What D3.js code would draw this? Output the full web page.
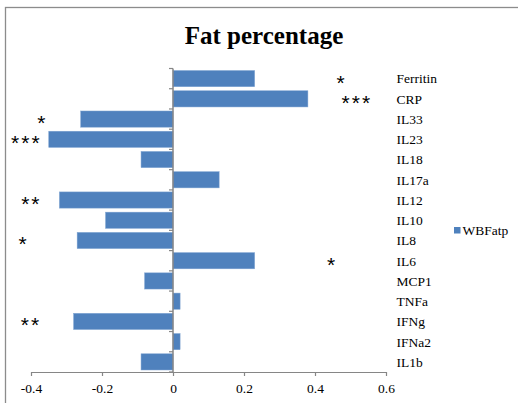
<!DOCTYPE html>
<html>
<head>
<meta charset="utf-8">
<script src="https://cdn.jsdelivr.net/npm/d3@7"></script>
<style>
  html, body { margin: 0; padding: 0; background: #fff; }
  svg { display: block; }
</style>
</head>
<body>
<svg id="chart" width="518" height="403"></svg>
<script>
// Correlation of cytokines with whole-body fat percentage
const categories = ["Ferritin", "CRP", "IL33", "IL23", "IL18", "IL17a", "IL12", "IL10", "IL8", "IL6", "MCP1", "TNFa", "IFNg", "IFNa2", "IL1b"];
const values = [0.23, 0.38, -0.26, -0.35, -0.09, 0.13, -0.32, -0.19, -0.27, 0.23, -0.08, 0.02, -0.28, 0.02, -0.09];
const xTicks = [-0.4, -0.2, 0, 0.2, 0.4, 0.6];
const seriesName = "WBFatp";
const title = "Fat percentage";
// significance marks and where they sit along the value axis
const sigCategories = ["Ferritin", "CRP", "IL33", "IL23", "IL12", "IL8", "IL6", "IFNg"];
const sigMarks = ["*", "***", "*", "***", "**", "*", "*", "**"];
const sigAt = [0.475, 0.518, -0.368, -0.413, -0.399, -0.421, 0.448, -0.400];

const svg = d3.select("#chart");
const serif = "'Liberation Serif', 'Times New Roman', serif";
const axisColor = "#868686";
const barColor = "#4F81BD";

// outer frame
svg.append("rect")
  .attr("x", 5.5).attr("y", 7.5)
  .attr("width", 530).attr("height", 420)
  .attr("fill", "none").attr("stroke", "#8c8c8c").attr("stroke-width", 1.3);

const x = d3.scaleLinear().domain([-0.4, 0.6]).range([31, 386]);
const y = d3.scaleBand().domain(categories).range([68.5, 372]).paddingInner(0.2).paddingOuter(0.1);

// title
svg.append("text")
  .attr("x", 264).attr("y", 44)
  .attr("text-anchor", "middle")
  .attr("font-family", serif).attr("font-weight", "bold").attr("font-size", 25)
  .text(title);

// bars
svg.append("g").selectAll("rect")
  .data(categories)
  .join("rect")
  .attr("x", (d, i) => x(Math.min(0, values[i])))
  .attr("y", d => y(d))
  .attr("width", (d, i) => Math.abs(x(values[i]) - x(0)))
  .attr("height", y.bandwidth())
  .attr("fill", barColor)
  .attr("stroke", "#7ea3d1").attr("stroke-width", 0.5);

// value axis at the bottom (plain hyphen for negatives)
const yBottom = 372;
const xAxis = svg.append("g")
  .attr("transform", `translate(0,${yBottom})`)
  .call(d3.axisBottom(x).tickValues(xTicks).tickSize(4).tickSizeOuter(0).tickFormat(d => String(d)));
xAxis.select(".domain").attr("stroke", axisColor).attr("stroke-width", 1.2);
xAxis.selectAll(".tick line").attr("stroke", axisColor).attr("stroke-width", 1.2);
xAxis.selectAll(".tick text")
  .attr("font-family", serif).attr("font-size", 13.5).attr("fill", "#000")
  .attr("dy", "1.05em");

// category axis through zero, ticks between categories
const boundaries = d3.range(categories.length + 1).map(i => 68.5 + i * (372 - 68.5) / categories.length);
const catAxis = svg.append("g");
catAxis.append("line")
  .attr("x1", x(0)).attr("x2", x(0))
  .attr("y1", 68.5).attr("y2", yBottom)
  .attr("stroke", axisColor).attr("stroke-width", 1.5);
catAxis.selectAll("line.tk")
  .data(boundaries)
  .join("line")
  .attr("class", "tk")
  .attr("x1", x(0) - 4).attr("x2", x(0))
  .attr("y1", d => d).attr("y2", d => d)
  .attr("stroke", axisColor).attr("stroke-width", 1.2);

// category labels on the right
svg.append("g").selectAll("text")
  .data(categories)
  .join("text")
  .attr("x", 396.5)
  .attr("y", d => y(d) + y.bandwidth() / 2)
  .attr("dy", "0.36em")
  .attr("font-family", serif).attr("font-size", 13.5)
  .text(d => d);

// significance stars
svg.append("g").selectAll("text")
  .data(sigCategories)
  .join("text")
  .attr("x", (d, i) => x(sigAt[i]))
  .attr("y", d => y(d) + y.bandwidth() / 2 + 11)
  .attr("text-anchor", "middle")
  .attr("font-family", "'Liberation Sans', Arial, sans-serif").attr("font-size", 21)
  .attr("letter-spacing", 2)
  .text((d, i) => sigMarks[i]);

// legend
const lg = svg.append("g");
lg.append("rect").attr("x", 454).attr("y", 227).attr("width", 6.5).attr("height", 6.5).attr("fill", barColor);
lg.append("text").attr("x", 462.5).attr("y", 234.5)
  .attr("font-family", serif).attr("font-size", 13.5)
  .text(seriesName);
</script>
</body>
</html>
